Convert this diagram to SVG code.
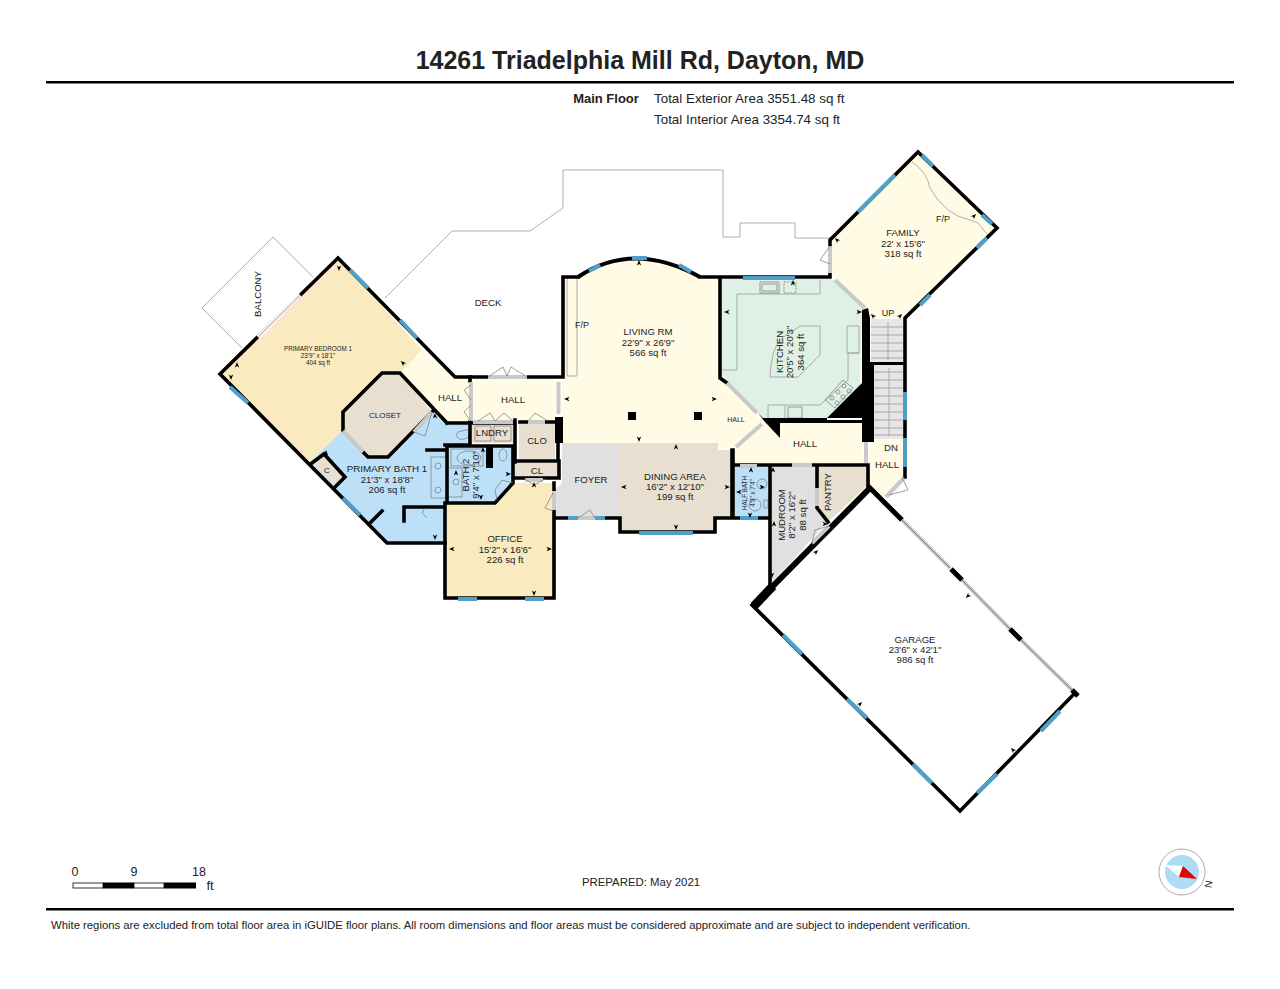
<svg xmlns="http://www.w3.org/2000/svg" width="1280" height="989" viewBox="0 0 1280 989">
<style>
text{font-family:"Liberation Sans",Arial,sans-serif;fill:#222;font-size:9.6px;text-anchor:middle}
.s{font-size:6.3px}.m{font-size:8px}
.w{fill:none;stroke:#000;stroke-width:3.6;stroke-linecap:square;stroke-linejoin:miter}
.win{fill:none;stroke:#4f9fc8;stroke-width:4}
.gd{fill:none;stroke:#c9c9c9;stroke-width:4}
.t{fill:none;stroke:#9a9a9a;stroke-width:.8}
.f{fill:none;stroke:#777;stroke-width:.7}
.cream{fill:#fffbe5}.tan{fill:#e8dfd0}.blue{fill:#bde0f9}.gray{fill:#e0e0e0}.yel{fill:#faeabf}
</style>
<defs><path id="k" d="M0,-3 L2.2,2.5 L0,1 L-2.2,2.5Z" fill="#000"/></defs>
<rect width="1280" height="989" fill="#fff"/>
<g id="header">
<text x="640" y="69" style="font-size:25px;font-weight:bold">14261 Triadelphia Mill Rd, Dayton, MD</text>
<rect x="46" y="81" width="1188" height="2.5" fill="#000"/>
<text x="606" y="103" style="font-size:13px;font-weight:bold">Main Floor</text>
<text x="654" y="103" style="font-size:13.400px;text-anchor:start">Total Exterior Area 3551.48 sq ft</text>
<text x="654" y="124" style="font-size:13.400px;text-anchor:start">Total Interior Area 3354.74 sq ft</text>
</g>
<g id="outdoor">
<path class="t" d="M385,298 L452,231 H530 L563,208 V170 H723 V237 H740 V223 H795 V238 H830"/>
<path class="t" d="M313,277 L273,237 L202,308 L242,348"/>
</g>
<g id="room-bedroom"><polygon class="yel" points="338,258 218,374 310,462 343,430 343,412 382,373 400,373 422,350"/>
<text class="s" x="318" y="351">PRIMARY BEDROOM 1</text><text class="s" x="318" y="358">23'9" x 18'1"</text><text class="s" x="318" y="365">404 sq ft</text></g>
<g id="room-hall-west"><polygon class="cream" points="422,350 455,377 470,377 470,423 447,423 400,373"/>
<text x="450" y="401">HALL</text></g>
<g id="room-hall"><rect class="cream" x="470" y="379" width="85" height="44"/><text x="513" y="403">HALL</text></g>
<g id="room-closet"><polygon class="tan" points="343,412 382,373 400,373 432,412 388,457 368,457 343,430"/><text class="m" x="385" y="418">CLOSET</text></g>
<g id="room-bath1"><polygon class="blue" points="343,430 368,457 388,457 432,412 447,423 470,423 470,445 445,445 445,543 387,543 310,462"/>
<text x="387" y="472" style="font-size:9.800px">PRIMARY BATH 1</text><text x="387" y="482.500">21'3" x 18'8"</text><text x="387" y="493">206 sq ft</text>
<path class="f" d="M431,457 H447 V498 H431Z"/><circle class="f" cx="438" cy="466" r="3"/><circle class="f" cx="438" cy="490" r="3"/>
<path class="f" d="M458,432 a5,4 0 1 0 8,6 h3 v-8 h-3z"/></g>
<g id="room-c"><polygon class="tan" points="312,463 324,454 345,477 335,487"/><text class="m" x="327" y="473">C</text></g>
<g id="room-lndry"><rect class="tan" x="472" y="423" width="41" height="20"/><path class="f" d="M475,426 H491 V441 H475Z M494,426 H511 V441 H494Z"/><text x="492" y="436">LNDRY</text></g>
<g id="room-clo"><rect class="tan" x="519" y="423" width="36" height="36"/><text x="537" y="444">CLO</text></g>
<g id="room-cl"><rect class="tan" x="515" y="463" width="44" height="15"/><text x="537" y="474">CL</text></g>
<g id="room-bath2"><polygon class="blue" points="447,447 513,447 513,483 495,503 447,503"/>
<path class="f" d="M451,449 H483 V466 H451Z"/><ellipse class="f" cx="469" cy="458" rx="12" ry="7"/><path class="f" d="M447,468 H462 V497 H447"/><ellipse class="f" cx="503" cy="455" rx="4" ry="6"/><circle class="f" cx="456" cy="482" r="3"/>
<text transform="translate(469,475) rotate(-90)" x="0" y="0">BATH 2</text><text transform="translate(479,475) rotate(-90)" x="0" y="0">9'4" x 7'10"</text></g>
<g id="room-office"><polygon class="yel" points="447,503 495,503 514,483 554,483 554,598 447,598"/>
<text x="505" y="542">OFFICE</text><text x="505" y="552.500">15'2" x 16'6"</text><text x="505" y="563">226 sq ft</text></g>
<g id="room-foyer"><polygon class="gray" points="562,443 620,443 620,517 555,517 555,490 562,483"/><text x="591" y="483">FOYER</text></g>
<g id="room-dining"><polygon class="tan" points="620,443 718,443 718,450 732,450 732,517 715,517 715,532 620,532"/>
<text x="675" y="480">DINING AREA</text><text x="675" y="490">16'2" x 12'10"</text><text x="675" y="500">199 sq ft</text></g>
<g id="room-living"><path class="cream" d="M563,277 H578 Q633,240 700,277 H720 V378 L762,422 L733,448 H718 V443 H562 V380 H563Z"/>
<path class="t" d="M567,278 V376 H577 V278"/>
<text x="575" y="328" style="font-size:9px;text-anchor:start">F/P</text>
<text x="648" y="335">LIVING RM</text><text x="648" y="345.500">22'9" x 26'9"</text><text x="648" y="356">566 sq ft</text>
<rect x="628" y="412" width="8" height="8" fill="#000"/><rect x="694" y="412" width="8" height="8" fill="#000"/>
<text class="s" style="font-size:7px" x="736" y="422">HALL</text></g>
<g id="room-kitchen"><polygon fill="#dff0e6" points="722,279 830,279 835,280 865,310 862,317 860,387 827,418 763,418 722,375"/>
<path class="t" d="M820,280 V294 H737 V370 H722 M770,377 Q771,348 782,338 L800,326 H820 V355 L798,377Z M847,326 H859 V353 H847Z M859,353 H848 V380 L820,405 H768 V418 M785,405 V418"/>
<path class="f" d="M760,282 H779 V293 H760Z M762,284 H777 V291 H762Z M825,400 L843,380 L853,388 L835,408Z M788,407 H802 V418 H788Z"/>
<path class="f" stroke-dasharray="2 1" d="M784,282 H796 V293 H784Z"/>
<circle class="f" cx="832" cy="398" r="2"/><circle class="f" cx="838" cy="392" r="2"/><circle class="f" cx="844" cy="386" r="2"/><circle class="f" cx="837" cy="403" r="2"/><circle class="f" cx="843" cy="397" r="2"/><circle class="f" cx="849" cy="391" r="2"/>
<text transform="translate(783,352) rotate(-90)" x="0" y="0">KITCHEN</text><text transform="translate(793,352) rotate(-90)" x="0" y="0">20'5" x 20'3"</text><text transform="translate(804,352) rotate(-90)" x="0" y="0">364 sq ft</text></g>
<g id="room-family"><polygon class="cream" points="918,152 997,228 905,318 870,318 865,308 832,275 830,240"/>
<path class="t" d="M912,162 Q927,172 930,188 Q945,215 970,220 L978,223 L990,238"/>
<text x="943" y="222" style="font-size:9px">F/P</text>
<text x="903" y="236">FAMILY</text><text x="903" y="246.500">22' x 15'6"</text><text x="903" y="257">318 sq ft</text>
<text x="888" y="316" style="font-size:9px">UP</text></g>
<g id="room-hall-east"><polygon class="cream" points="780,423 863,423 863,463 735,463 735,450 763,423 780,438"/><text x="805" y="447">HALL</text></g>
<g id="room-hall-dn"><polygon class="cream" points="870,435 905,438 905,477 885,497 868,483"/><text x="891" y="451">DN</text><text x="887" y="468">HALL</text></g>
<g id="stairs"><rect x="871" y="319" width="32" height="43" fill="#e6e6e6"/><rect x="874" y="365" width="31" height="74" fill="#e6e6e6"/>
<path class="t" d="M871,327H903M871,335H903M871,343H903M871,351H903M871,358H903M874,372H905M874,380H905M874,388H905M874,396H905M874,404H905M874,412H905M874,420H905M874,428H905M874,435H905M888,322V360M889,368V436"/></g>
<g id="room-halfbath"><rect class="blue" x="735" y="467" width="33" height="51"/><circle class="f" cx="762" cy="484" r="5"/><circle class="f" cx="755" cy="505" r="6"/><path class="f" d="M764,500h4v8h-4z"/>
<text class="s" transform="translate(747,493) rotate(-90)" x="0" y="0">HALF BATH</text><text class="s" transform="translate(755,493) rotate(-90)" x="0" y="0">4'9" x 7'4"</text></g>
<g id="room-mudroom"><polygon class="gray" points="770,467 815,467 815,508 827,522 772,583"/>
<text transform="translate(785,515) rotate(-90)" x="0" y="0">MUDROOM</text><text transform="translate(795,515) rotate(-90)" x="0" y="0">8'2" x 16'2"</text><text transform="translate(806,515) rotate(-90)" x="0" y="0">88 sq ft</text></g>
<g id="room-pantry"><polygon class="tan" points="817,467 868,467 868,485 828,522 817,508"/><text transform="translate(831,492) rotate(-90)" x="0" y="0">PANTRY</text></g>
<g id="room-deck"><text x="488" y="306">DECK</text></g>
<g id="room-balcony"><text transform="translate(261,294) rotate(-90)" x="0" y="0">BALCONY</text></g>
<g id="room-garage"><text x="915" y="643">GARAGE</text><text x="915" y="653">23'6" x 42'1"</text><text x="915" y="663">986 sq ft</text></g>
<g id="connectors">
<path d="M758,413 L765,422 L780,438 V423 H862 V418 H763Z M827,418 L862,383 V420 H827Z" fill="#000"/>
<path d="M862,310 L868,308 L870,318 V362 H905 V365 H874 V442 H862Z" fill="#000"/>
<path d="M870,488 L772,587" fill="none" stroke="#000" stroke-width="6"/>
<path d="M773,586 L754,606" fill="none" stroke="#000" stroke-width="9"/>
<path d="M868,486 L902,520" fill="none" stroke="#000" stroke-width="5"/>
<path class="w" d="M338,258 L220,374 L387,543 H445 M338,258 L455,377 H562 M563,377 V277 H578 M700,277 H830 V240 L918,152 L997,228 L905,318 V477 M1075,693 L960,811 L752,605"/>
<path class="w" d="M445,503 V598 H554 V483 M447,503 H495 L513,483 V446 H447 V503 M447,423 H515 M470,422 V445 H445 M470,377 V381 M515,420 V462 M520,422 H555 M558,422 V459 M515,461 H559 V478 H515 M343,430 V412 L382,373 H400 L447,423 M363,452 L368,457 H388 L432,412 M427,450 H445 M312,463 L324,454 L345,477 L335,487 M404,507 H445 M404,507 V521 M371,522 L382,511 M720,278 V378 L727,383 M732,450 V518 H715 V532 H620 V518 H555 M733,450 V518 H770 M770,466 V590 M735,465 H868 V486 M817,467 V508 L828,522"/>
<rect x="486" y="446" width="7" height="22" fill="#000"/>
<rect x="555" y="417" width="8" height="26" fill="#000"/>
<path d="M258,337 L300,295" fill="none" stroke="#fff" stroke-width="4.500"/>
<path d="M258,337 L300,295" fill="none" stroke="#c4c4c4" stroke-width="1.600"/>
<path class="gd" d="M835,280 L865,308 M727,383 L757,413 M736,447 L762,424 M488,377 H527 M558.500,382 V414 M554,491 V510 M830,246 V273 M866,442 V463 M792,465 H812 M740,466 H757 M817,488 V506 M829,526 L812,543 M578,518 H595 M528,422 H545 M473,422 H513 M471,382 V421 M525,480 H543 M886,497 L904,478 M343,431 L363,452 M414,432 L432,412"/>
<path d="M902,520 L950,568 M962,580 L1010,629 M1021,640 L1072,690" fill="none" stroke="#d0d0d0" stroke-width="4"/>
<path d="M902,520 L950,568 M962,580 L1010,629 M1021,640 L1072,690" fill="none" stroke="#555" stroke-width=".8"/>
<path d="M951,569 L962,580 M1010,629 L1021,640 M1072,690 L1078,696" fill="none" stroke="#000" stroke-width="5"/>
<path class="win" d="M350,270 L368,288 M400,320 L417,338 M230,387 L248,403 M343,498 L360,515 M458,599 H477 M525,599 H544 M740,518 H758 M639,533 H693 M568,518 H578 M595,518 H605 M743,278 H795 M858,212 L895,175 M922,155 L933,166 M982,215 L992,224 M987,238 L977,248 M930,295 L920,305 M905,392 V420 M905,438 V467 M783,635 L802,654 M847,699 L867,718 M913,764 L932,783 M977,793 L997,774 M1041,731 L1060,711"/>
<path fill="none" stroke="#000" stroke-width="4" d="M578,277 Q633,240 700,277"/>
<path class="win" d="M589,271 Q595,268 600,265 M632,258 H647 M679,265 Q685,268 691,272"/>
<path class="f" d="M488,377 L503,367 L507,376 L511,367 L527,377 M471,400 L464,390 L471,385 M471,405 L464,412 L471,421 M478,421 L490,413 L495,421 L504,413 L513,421 M528,421 L535,413 L548,421 M414,432 L425,436 L432,412 M830,246 L820,260 L830,264 M553,493 L545,508 L553,511 M578,518 L590,510 L595,518 M889,495 L908,490 L902,477 M829,526 L815,530 L812,543 M513,483 L502,480 L495,490 L497,500 M534,485 L525,479 M534,485 L545,479 M422,513 L425,508 M422,513 L427,518"/>
</g>
<g id="dimension-ticks">
<use href="#k" transform="translate(339,268) rotate(180)"/><use href="#k" transform="translate(237,365)"/><use href="#k" transform="translate(231,377) rotate(180)"/><use href="#k" transform="translate(403,363) rotate(-45)"/>
<use href="#k" transform="translate(326,453)"/><use href="#k" transform="translate(435,416)"/><use href="#k" transform="translate(435,537) rotate(180)"/>
<use href="#k" transform="translate(452,549) rotate(-90)"/><use href="#k" transform="translate(549,549) rotate(90)"/><use href="#k" transform="translate(534,593) rotate(180)"/><use href="#k" transform="translate(534,485)"/>
<use href="#k" transform="translate(508,474) rotate(90)"/><use href="#k" transform="translate(481,497) rotate(180)"/><use href="#k" transform="translate(483,450)"/><use href="#k" transform="translate(456,473)"/>
<use href="#k" transform="translate(639,263)"/><use href="#k" transform="translate(567,399) rotate(-90)"/><use href="#k" transform="translate(714,399) rotate(90)"/><use href="#k" transform="translate(639,439) rotate(180)"/>
<use href="#k" transform="translate(676,447)"/><use href="#k" transform="translate(624,487) rotate(-90)"/><use href="#k" transform="translate(727,487) rotate(90)"/><use href="#k" transform="translate(676,527) rotate(180)"/>
<use href="#k" transform="translate(727,312) rotate(-90)"/><use href="#k" transform="translate(859,312) rotate(90)"/><use href="#k" transform="translate(793,283)"/>
<use href="#k" transform="translate(837,240) rotate(-45)"/><use href="#k" transform="translate(974,216) rotate(45)"/><use href="#k" transform="translate(873,316) rotate(-45)"/><use href="#k" transform="translate(900,316) rotate(45)"/>
<use href="#k" transform="translate(751,470)"/><use href="#k" transform="translate(739,492) rotate(-90)"/><use href="#k" transform="translate(762,487) rotate(90)"/><use href="#k" transform="translate(750,515) rotate(180)"/>
<use href="#k" transform="translate(773,470)"/><use href="#k" transform="translate(774,524)"/><use href="#k" transform="translate(772,575) rotate(180)"/><use href="#k" transform="translate(825,524) rotate(90)"/><use href="#k" transform="translate(816,552) rotate(45)"/>
<use href="#k" transform="translate(968,596) rotate(-135)"/><use href="#k" transform="translate(860,704) rotate(45)"/><use href="#k" transform="translate(1013,750) rotate(-45)"/>
</g>
<g id="footer">
<text x="75" y="876" style="font-size:12.500px">0</text><text x="134" y="876" style="font-size:12.500px">9</text><text x="199" y="876" style="font-size:12.500px">18</text>
<rect x="73" y="883" width="30" height="5" fill="#fff" stroke="#000" stroke-width=".8"/><rect x="103" y="882.500" width="31" height="6" fill="#000"/><rect x="134" y="883" width="30" height="5" fill="#fff" stroke="#000" stroke-width=".8"/><rect x="164" y="882.500" width="32" height="6" fill="#000"/>
<text x="210" y="890" style="font-size:13px">ft</text>
<text x="641" y="886" style="font-size:11.400px">PREPARED: May 2021</text>
<rect x="46" y="908" width="1188" height="2.500" fill="#000"/>
<text x="51" y="929" style="font-size:11.320px;text-anchor:start">White regions are excluded from total floor area in iGUIDE floor plans. All room dimensions and floor areas must be considered approximate and are subject to independent verification.</text>
</g>
<g id="compass">
<circle cx="1182" cy="872" r="23" fill="#fff" stroke="#aaa"/><circle cx="1182" cy="872" r="17" fill="#aedcf5"/>
<polygon points="1165,865 1183,866 1179,877" fill="#fff"/><polygon points="1183,866 1197,879 1179,877" fill="#e60000"/>
<text transform="translate(1208,884) rotate(100)" x="0" y="3" style="font-size:10px">N</text>
</g>
</svg>
